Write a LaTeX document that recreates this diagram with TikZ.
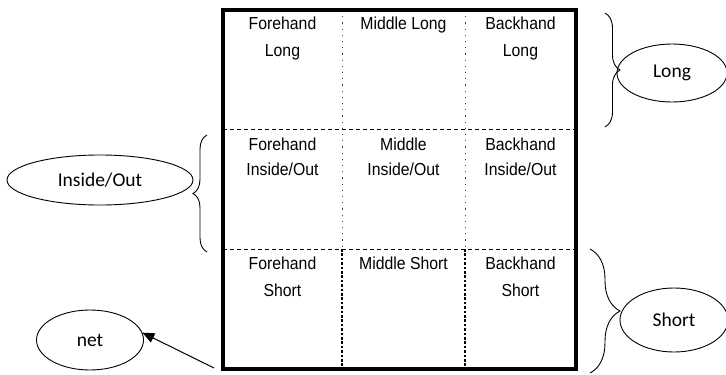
\documentclass[tikz,border=0pt]{standalone}
\usepackage{fontspec}
\setmainfont{Liberation Sans}
\newfontfamily\calibfont{Carlito}
\usetikzlibrary{arrows.meta,decorations.pathreplacing,shapes.geometric}
\newcommand\tallt[1]{\scalebox{1}[1.1]{#1}}
\begin{document}
\begin{tikzpicture}[x=1pt,y=-1pt,
  celltext/.style={anchor=base,inner sep=0pt,font=\fontsize{15.8}{18}\selectfont},
  oval/.style={draw,ellipse,line width=0.9pt,inner sep=0pt,font=\calibfont\fontsize{19.5}{22}\selectfont},
  bracestyle/.style={draw,line width=0.9pt,decorate},
  hdash/.style={line width=0.8pt,dash pattern=on 4pt off 3pt},
  vdot/.style={line width=1pt,dash pattern=on 1.2pt off 5pt,black!75},
  vdash/.style={line width=1.1pt,dash pattern=on 2.6pt off 1.8pt},
  border/.style={line width=4.5pt}]
\useasboundingbox (0,0) rectangle (726,375);
\fill[white] (0,0) rectangle (726,375);

% grid coordinates
\coordinate (tl) at (223,10);
\coordinate (br) at (576,369);
\coordinate (v1t) at (342,10);
\coordinate (v1m) at (342,249);
\coordinate (v1b) at (342,369);
\coordinate (v2t) at (465,10);
\coordinate (v2m) at (465,249);
\coordinate (v2b) at (465,369);
\coordinate (h1l) at (223,129);
\coordinate (h1r) at (576,129);
\coordinate (h2l) at (223,249);
\coordinate (h2r) at (576,249);

\draw[hdash] (h1l) -- (h1r);
\draw[hdash] (h2l) -- (h2r);
\draw[vdot] (v1t) -- (v1m);
\draw[vdot] (v2t) -- (v2m);
\draw[vdash] (v1m) -- (v1b);
\draw[vdash] (v2m) -- (v2b);
\draw[border] (tl) rectangle (br);

% cell texts
\node[celltext] (c11a) at (282.5,29) {\tallt{Forehand}};
\node[celltext] (c11b) at (282.5,56) {\tallt{Long}};
\node[celltext] (c12a) at (403.5,29) {\tallt{Middle Long}};
\node[celltext] (c13a) at (520.5,29) {\tallt{Backhand}};
\node[celltext] (c13b) at (520.5,56) {\tallt{Long}};

\node[celltext] (c21a) at (282.5,150) {\tallt{Forehand}};
\node[celltext] (c21b) at (282.5,175) {\tallt{Inside/Out}};
\node[celltext] (c22a) at (403.5,150) {\tallt{Middle}};
\node[celltext] (c22b) at (403.5,175) {\tallt{Inside/Out}};
\node[celltext] (c23a) at (520.5,150) {\tallt{Backhand}};
\node[celltext] (c23b) at (520.5,175) {\tallt{Inside/Out}};

\node[celltext] (c31a) at (282.5,269) {\tallt{Forehand}};
\node[celltext] (c31b) at (282.5,296) {\tallt{Short}};
\node[celltext] (c32a) at (403.5,269) {\tallt{Middle Short}};
\node[celltext] (c33a) at (520.5,269) {\tallt{Backhand}};
\node[celltext] (c33b) at (520.5,296) {\tallt{Short}};

% ellipses
\node[oval,minimum width=110pt,minimum height=58pt] (long) at (672,73) {Long};
\node[oval,minimum width=186pt,minimum height=50pt] (inout) at (100,180) {Inside/Out};
\node[oval,minimum width=108pt,minimum height=64pt] (short) at (674,320) {Short};
\node[oval,minimum width=107pt,minimum height=60pt] (net) at (90,340) {net};

% braces
\coordinate (blt) at (605,13);
\coordinate (blb) at (605,127);
\coordinate (bit) at (207,135);
\coordinate (bib) at (207,252);
\coordinate (bst) at (590,249);
\coordinate (bsb) at (590,373);
\draw[bracestyle,decoration={brace,amplitude=15pt}] (blt) -- (blb);
\draw[bracestyle,decoration={brace,amplitude=14pt}] (bib) -- (bit);
\draw[bracestyle,decoration={brace,amplitude=30pt}] (bst) -- (bsb);

% arrow to net
\coordinate (arrstart) at (214,368);
\draw[line width=1pt,-{Triangle[length=12pt,width=10pt]}] (arrstart) -- (net.8);
\end{tikzpicture}
\end{document}
